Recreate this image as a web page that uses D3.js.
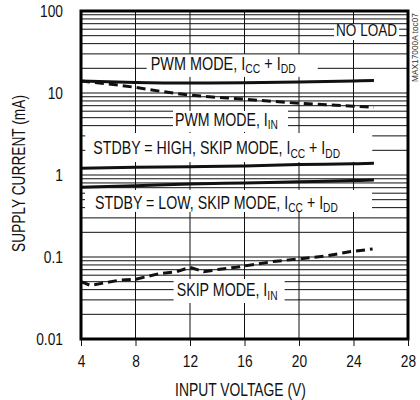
<!DOCTYPE html>
<html>
<head>
<meta charset="utf-8">
<script src="https://cdn.jsdelivr.net/npm/d3@7"></script>
<style>
  body { margin: 0; background: #fff; }
  text { font-family: "Liberation Sans", Arial, sans-serif; fill: #111; }
</style>
</head>
<body>
<svg id="chart" width="420" height="400"></svg>
<script>
// x ticks (V) and y ticks (mA)
const xTicks = [4, 8, 12, 16, 20, 24, 28]
const yTicks = [0.01, 0.1, 1, 10, 100]
const yTickLabels = ['0.01', '0.1', '1', '10', '100']

// PWM mode, Icc + Idd (solid)
const pwmSupplyV = [4, 8, 12, 16, 20, 24, 25.5]
const pwmSupply = [14.0, 13.4, 13.2, 13.3, 13.6, 14.0, 14.2]

// PWM mode, Iin (dashed)
const pwmInputV = [4, 6, 8, 10, 12, 16, 20, 24, 25.5]
const pwmInput = [14.0, 12.9, 11.7, 10.4, 9.45, 8.4, 7.5, 6.9, 6.7]

// STDBY = HIGH, skip mode, Icc + Idd (solid)
const stdbyHighV = [4, 8, 12, 16, 20, 24, 25.5]
const stdbyHigh = [1.21, 1.24, 1.26, 1.29, 1.34, 1.37, 1.39]

// STDBY = LOW, skip mode, Icc + Idd (solid)
const stdbyLowV = [4, 8, 12, 16, 20, 24, 25.5]
const stdbyLow = [0.71, 0.74, 0.775, 0.80, 0.825, 0.855, 0.87]

// skip mode, Iin (dashed)
const skipInputV = [4, 4.7, 6.9, 8, 9.8, 11, 12, 13, 14.2, 15.4, 18.1, 20, 22, 23.7, 25.4]
const skipInput = [0.050, 0.045, 0.0525, 0.0535, 0.063, 0.066, 0.075, 0.066, 0.071, 0.075, 0.088, 0.095, 0.103, 0.116, 0.125]

const series = [
  { v: pwmSupplyV, i: pwmSupply, dashed: false, curve: d3.curveMonotoneX },
  { v: pwmInputV, i: pwmInput, dashed: true, curve: d3.curveMonotoneX },
  { v: stdbyHighV, i: stdbyHigh, dashed: false, curve: d3.curveMonotoneX },
  { v: stdbyLowV, i: stdbyLow, dashed: false, curve: d3.curveMonotoneX },
  { v: skipInputV, i: skipInput, dashed: true, curve: d3.curveLinear }
]

// labels: parts are [text, isSubscript]; x = start voltage, y = baseline current
// len = width to fit, pad = gap kept clear of grid [top, right, bottom, left]
const annotations = [
  { parts: [['NO LOAD', 0]], x: 22.72, y: 48.9, size: 16, len: 61, pad: [0, 2, 0, 2] },
  { parts: [['PWM MODE, I', 0], ['CC', 1], [' + I', 0], ['DD', 1]], x: 9.12, y: 19.1, size: 18, len: 145, pad: [2, 22, 3, 4] },
  { parts: [['PWM MODE, I', 0], ['IN', 1]], x: 10.9, y: 3.96, size: 18, len: 103, pad: [1, 10, 2, 2] },
  { parts: [['STDBY = HIGH, SKIP MODE, I', 0], ['CC', 1], [' + I', 0], ['DD', 1]], x: 4.9, y: 1.80, size: 18, len: 247, pad: [7, 32, 4, 8] },
  { parts: [['STDBY = LOW, SKIP MODE, I', 0], ['CC', 1], [' + I', 0], ['DD', 1]], x: 5.03, y: 0.385, size: 18, len: 243, pad: [5, 34, -1, 10] },
  { parts: [['SKIP MODE, I', 0], ['IN', 1]], x: 11.02, y: 0.0334, size: 18, len: 101, pad: [3, 7, 3, 3] }
]

const svg = d3.select('#chart')
const x = d3.scaleLinear().domain([4, 28]).range([81, 408])
const y = d3.scaleLog().domain([0.01, 100]).range([339, 11])

// squeeze a text horizontally to a given width (narrow face look)
function fit (t, len, tx, ty, rot) {
  const w = t.node().getComputedTextLength()
  t.attr('transform', `translate(${tx},${ty})${rot ? ' rotate(' + rot + ')' : ''} scale(${len / w},1)`)
}

// label texts
const boxes = annotations.map(a => {
  const x0 = x(a.x), base = y(a.y)
  const t = svg.append('text').attr('font-size', a.size)
  a.parts.forEach((p, k) => {
    const s = t.append('tspan').text(p[0])
    if (p[1]) s.attr('font-size', a.size * 0.72).attr('dy', 3.5)
    else if (k > 0) s.attr('dy', -3.5)
  })
  fit(t, a.len, x0, base)
  return {
    x0: x0 - a.pad[3], x1: x0 + a.len + a.pad[1],
    y0: base - 0.78 * a.size - a.pad[0], y1: base + 0.22 * a.size + a.pad[2]
  }
})

// cut a grid line where it crosses a label box
function segments (pos, lo, hi, horiz) {
  let segs = [[lo, hi]]
  boxes.forEach(b => {
    const inside = horiz ? (pos >= b.y0 && pos <= b.y1) : (pos >= b.x0 && pos <= b.x1)
    if (!inside) return
    const c0 = horiz ? b.x0 : b.y0
    const c1 = horiz ? b.x1 : b.y1
    segs = segs.flatMap(([a, e]) => {
      if (c1 <= a || c0 >= e) return [[a, e]]
      const out = []
      if (c0 > a) out.push([a, c0])
      if (c1 < e) out.push([c1, e])
      return out
    })
  })
  return segs
}

// horizontal grid (log minor + major)
const hLines = []
for (let d = 0.01; d < 100; d *= 10) {
  for (let k = 1; k <= 9; k++) hLines.push(+(d * k).toPrecision(3))
}
svg.append('path')
  .attr('d', hLines.map(v => segments(y(v), x(4), x(28), true)
    .map(s => `M${s[0]},${y(v)}H${s[1]}`).join('')).join(''))
  .attr('fill', 'none')
  .attr('stroke', '#111')
  .attr('stroke-width', 1)

// vertical grid
svg.append('path')
  .attr('d', xTicks.map(v => segments(x(v), y(100), y(0.01), false)
    .map(s => `M${x(v)},${s[0]}V${s[1]}`).join('')).join(''))
  .attr('fill', 'none')
  .attr('stroke', '#111')
  .attr('stroke-width', 1)

// curves
const line = d3.line()
series.forEach(s => {
  svg.append('path')
    .datum(s.v.map((v, k) => [v, s.i[k]]))
    .attr('fill', 'none')
    .attr('stroke', '#111')
    .attr('stroke-width', 3)
    .attr('stroke-dasharray', s.dashed ? '9,5' : null)
    .attr('d', line.x(d => x(d[0])).y(d => y(d[1])).curve(s.curve))
})

// frame
svg.append('rect')
  .attr('x', x(4)).attr('y', y(100))
  .attr('width', x(28) - x(4)).attr('height', y(0.01) - y(100))
  .attr('fill', 'none')
  .attr('stroke', '#000')
  .attr('stroke-width', 3)

// x axis ticks + labels
const xAxis = d3.axisBottom(x).tickValues(xTicks).tickSize(7).tickPadding(10)
svg.append('g')
  .attr('transform', `translate(0,${y(0.01)})`)
  .call(xAxis)
  .call(g => g.select('.domain').remove())
  .call(g => g.selectAll('line').attr('stroke', '#111'))
  .call(g => g.selectAll('text').attr('font-size', 16).attr('font-family', null).attr('fill', '#111').attr('transform', 'scale(0.86,1)'))

// y axis labels
const yAxis = d3.axisLeft(y).tickValues(yTicks).tickFormat((d, k) => yTickLabels[k]).tickSize(0).tickPadding(21)
svg.append('g')
  .attr('transform', `translate(${x(4)},0)`)
  .call(yAxis)
  .call(g => g.select('.domain').remove())
  .call(g => g.selectAll('text').attr('font-size', 16).attr('font-family', null).attr('fill', '#111').attr('transform', 'scale(0.86,1)'))

// axis titles
const xTitle = svg.append('text')
  .attr('text-anchor', 'middle')
  .attr('font-size', 18)
  .text('INPUT VOLTAGE (V)')
fit(xTitle, 131, 240.5, 395.5)

const yTitle = svg.append('text')
  .attr('text-anchor', 'middle')
  .attr('font-size', 18)
  .text('SUPPLY CURRENT (mA)')
fit(yTitle, 157, 25, 173.5, -90)

const toc = svg.append('text')
  .attr('text-anchor', 'middle')
  .attr('font-size', 9)
  .style('fill', '#333')
  .text('MAX17000A toc07')
fit(toc, 69, 418, 47.5, -90)
</script>
</body>
</html>
